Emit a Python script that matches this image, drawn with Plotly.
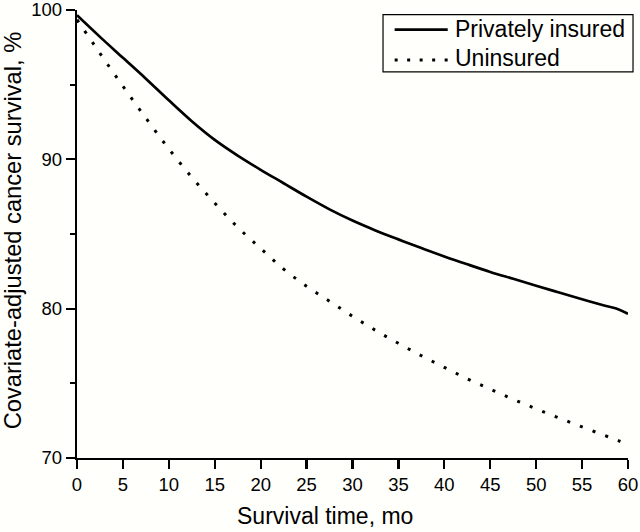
import plotly.graph_objects as go

months = [0, 2.5, 5, 7.5, 10, 12.5, 15, 17.5, 20, 22.5, 25, 27.5, 30, 32.5, 35,
          37.5, 40, 42.5, 45, 47.5, 50, 52.5, 55, 57.5, 59, 60]
privately_insured = [99.65, 98.2, 96.8, 95.4, 93.95, 92.55, 91.3, 90.25, 89.3, 88.4,
                     87.5, 86.65, 85.9, 85.24, 84.64, 84.06, 83.5, 82.97, 82.46, 82.0,
                     81.54, 81.08, 80.63, 80.2, 79.95, 79.65]
uninsured = [99.35, 97.1, 94.9, 92.76, 90.7, 88.8, 87.07, 85.45, 84.04, 82.65,
             81.5, 80.5, 79.49, 78.55, 77.68, 76.85, 76.07, 75.3, 74.61, 73.93,
             73.29, 72.68, 72.08, 71.5, 71.15, 70.88]
series_names = ["Privately insured", "Uninsured"]

x_ticks = [0, 5, 10, 15, 20, 25, 30, 35, 40, 45, 50, 55, 60]
y_ticks = [70, 80, 90, 100]
y_minor_ticks = [75, 85, 95]

FONT = "Liberation Sans, Arial, sans-serif"
BG = "#fffffb"
SOLID = dict(color="black", width=2.7)
DOTTED = dict(color="black", width=3, dash="3px,10.5px")

fig = go.Figure()
fig.add_trace(go.Scatter(x=months, y=privately_insured, mode="lines",
                         name=series_names[0], line_shape="spline", line=SOLID))
fig.add_trace(go.Scatter(x=months, y=uninsured, mode="lines",
                         name=series_names[1], line_shape="spline", line=DOTTED))

# legend box drawn in paper coordinates (decoration only)
lx0, lx1, ly0, ly1 = 0.5554, 1.0091, 0.8617, 0.9895
sx0, sx1, tx = 0.5765, 0.6728, 0.6830
row_y = [0.9563, 0.8885]
text_y = [0.9568, 0.8918]

shapes = [
    dict(type="rect", xref="paper", yref="paper", x0=lx0, x1=lx1, y0=ly0, y1=ly1,
         line=dict(color="black", width=1.2), fillcolor=BG, layer="above"),
    dict(type="line", xref="paper", yref="paper", x0=sx0, x1=sx1, y0=row_y[0], y1=row_y[0],
         line=SOLID, layer="above"),
    dict(type="line", xref="paper", yref="paper", x0=sx0, x1=sx1, y0=row_y[1], y1=row_y[1],
         line=dict(color="black", width=3, dash="3px,9.5px"), layer="above"),
]

annotations = [
    dict(text=series_names[0], xref="paper", yref="paper", x=tx, y=text_y[0],
         xanchor="left", yanchor="middle", showarrow=False, font=dict(size=23)),
    dict(text=series_names[1], xref="paper", yref="paper", x=tx, y=text_y[1],
         xanchor="left", yanchor="middle", showarrow=False, font=dict(size=23)),
    dict(text="Survival time, mo", xref="paper", yref="paper",
         x=0.4505, y=-0.1305, xanchor="center", yanchor="middle",
         showarrow=False, font=dict(size=23)),
    dict(text="Covariate-adjusted cancer survival, %", xref="paper", yref="paper",
         x=-0.1163, y=0.508, xanchor="center", yanchor="middle", textangle=-90,
         showarrow=False, borderpad=0, font=dict(size=23.7)),
]

fig.update_layout(
    template="none",
    width=640, height=532,
    margin=dict(l=77, r=12, t=10, b=74, autoexpand=False),
    paper_bgcolor=BG, plot_bgcolor=BG,
    font=dict(family=FONT, color="black", size=18.5),
    showlegend=False,
    xaxis=dict(range=[0, 60], tickvals=x_ticks, showline=True, linecolor="black",
               linewidth=2.2, ticks="outside", ticklen=9, tickwidth=2.2, tickcolor="black",
               showgrid=False, zeroline=False, automargin=False,
               ticklabeloverflow="allow", tickfont=dict(size=18.5)),
    yaxis=dict(range=[70, 100], tickvals=y_ticks, showline=True, linecolor="black",
               linewidth=2.2, ticks="outside", ticklen=9, tickwidth=2.2, tickcolor="black",
               showgrid=False, zeroline=False, automargin=False,
               ticklabeloverflow="allow",
               minor=dict(tickvals=y_minor_ticks, ticks="outside", ticklen=5,
                          tickwidth=2.2, tickcolor="black", showgrid=False),
               tickfont=dict(size=18.5)),
    shapes=shapes,
    annotations=annotations,
)

fig.write_html("out.html", config={"displayModeBar": False, "staticPlot": True},
               post_script="document.body.style.margin='0';document.body.style.overflow='hidden';")
